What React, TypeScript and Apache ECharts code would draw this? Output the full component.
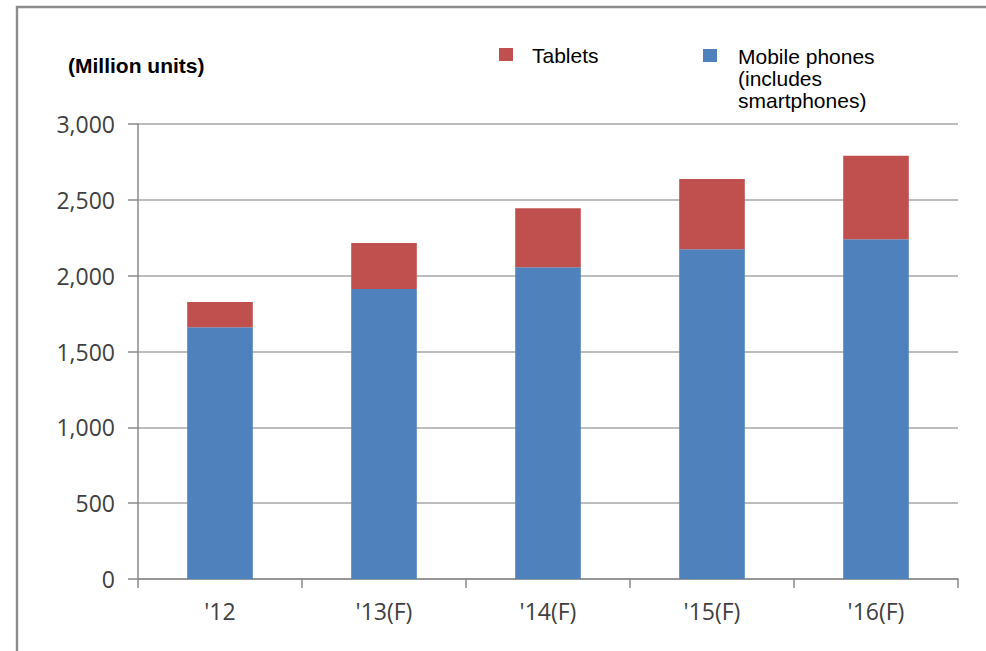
import React, { useEffect, useRef } from "react";
import * as echarts from "echarts";

const categories = ["'12", "'13(F)", "'14(F)", "'15(F)", "'16(F)"];
const mobilePhones = [1660, 1912, 2055, 2174, 2240];
const tablets = [166, 303, 389, 463, 551];
const yTicks = { min: 0, max: 3000, interval: 500 };

const RED = "#C0504D";
const BLUE = "#4F81BD";
const LABEL_FONT = "'Open Sans', 'DejaVu Sans', sans-serif";
const ARIAL = "'Liberation Sans', Arial, sans-serif";

export default function App() {
  const ref = useRef<HTMLDivElement>(null);
  useEffect(() => {
    if (!ref.current) return;
    const chart = echarts.init(ref.current, null, { renderer: "svg" });
    chart.setOption({
      animation: false,
      backgroundColor: "#ffffff",
      grid: { left: 138, right: 28, top: 124, bottom: 72, containLabel: false },
      legend: { show: false },
      xAxis: {
        type: "category",
        data: categories,
        axisLine: { lineStyle: { color: "#8a8a8a", width: 1.5 } },
        axisTick: { show: true, length: 9, alignWithLabel: false, lineStyle: { color: "#8a8a8a", width: 1.5 } },
        axisLabel: { color: "#404040", fontSize: 23, fontFamily: LABEL_FONT, margin: 20 },
      },
      yAxis: {
        type: "value",
        min: yTicks.min,
        max: yTicks.max,
        interval: yTicks.interval,
        axisLine: { show: true, lineStyle: { color: "#8a8a8a", width: 1.5 } },
        axisTick: { show: true, length: 10, lineStyle: { color: "#8a8a8a", width: 1.5 } },
        splitLine: { show: true, lineStyle: { color: "#a6a6a6", width: 1.5 } },
        axisLabel: {
          color: "#404040",
          fontSize: 23,
          fontFamily: LABEL_FONT,
          margin: 23,
          formatter: (v: number) => v.toLocaleString("en-US"),
        },
      },
      series: [
        {
          name: "Mobile phones (includes smartphones)",
          type: "bar",
          stack: "total",
          barWidth: "40%",
          data: mobilePhones,
          itemStyle: { color: BLUE },
        },
        {
          name: "Tablets",
          type: "bar",
          stack: "total",
          barWidth: "40%",
          data: tablets,
          itemStyle: { color: RED },
        },
      ],
      graphic: [
        {
          type: "polyline",
          shape: { points: [[17, 651], [17, 7], [986, 7]] },
          style: { stroke: "#8c8c8c", lineWidth: 2.4, fill: "none" },
          silent: true,
        },
        {
          type: "text",
          x: 68,
          y: 65,
          style: {
            text: "(Million units)",
            font: `bold 21px ${ARIAL}`,
            fill: "#000",
            verticalAlign: "middle",
          },
        },
        { type: "rect", shape: { x: 499, y: 48, width: 14, height: 13 }, style: { fill: RED } },
        {
          type: "text",
          x: 532,
          y: 55,
          style: { text: "Tablets", font: `21px ${ARIAL}`, fill: "#000", verticalAlign: "middle" },
        },
        { type: "rect", shape: { x: 703, y: 49, width: 14, height: 13 }, style: { fill: BLUE } },
        {
          type: "text",
          x: 738,
          y: 45,
          style: {
            text: "Mobile phones\n(includes\nsmartphones)",
            font: `21px ${ARIAL}`,
            lineHeight: 22,
            fill: "#000",
            verticalAlign: "top",
          },
        },
      ],
    });
    return () => chart.dispose();
  }, []);
  return (
    <div
      ref={ref}
      style={{ position: "absolute", left: 0, top: 0, width: 986, height: 651 }}
    />
  );
}
